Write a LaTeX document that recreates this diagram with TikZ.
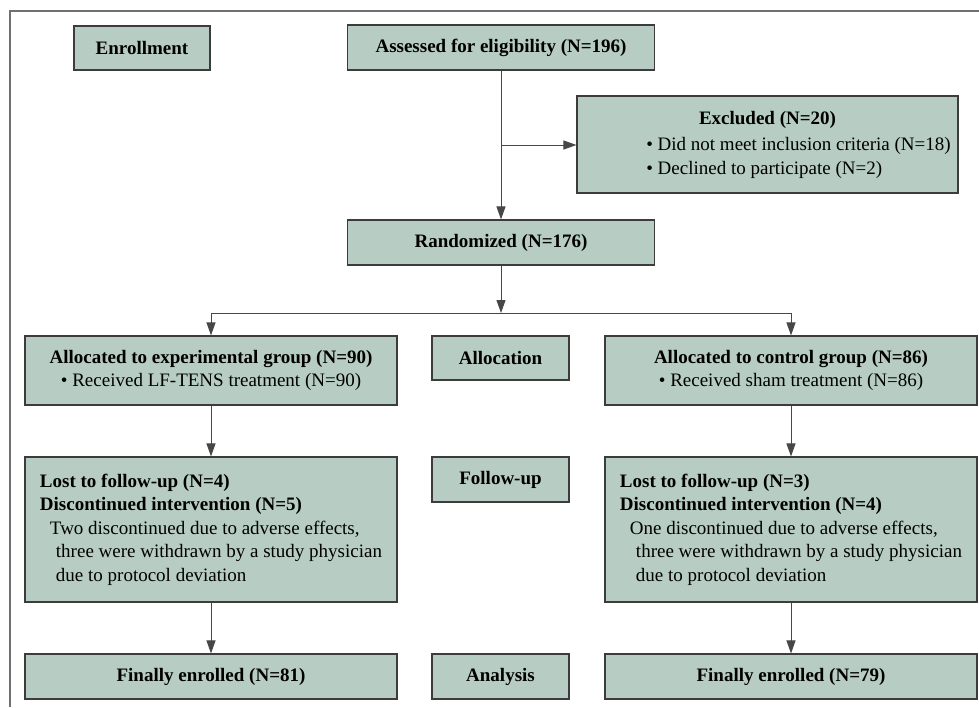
\documentclass[tikz,border=0pt]{standalone}
\usepackage{fontspec}
\setmainfont{Liberation Serif}
\usetikzlibrary{arrows.meta}
\definecolor{boxfill}{HTML}{B7CCC3}
\definecolor{boxline}{HTML}{3C3C3C}
\definecolor{frameline}{HTML}{707070}

\begin{document}
\begin{tikzpicture}[x=1pt,y=-1pt,
    box/.style={draw=boxline,fill=boxfill,line width=1.1pt,inner sep=0pt,
      align=center,font=\fontsize{19}{23.5}\selectfont},
    arr/.style={draw=black!72,line width=1pt,-{Triangle[length=13pt,width=9pt]}}]
  \useasboundingbox (0,0) rectangle (979,707);
  \draw[frameline,line width=1.2pt] (10,707) -- (10,11) -- (979,11);

  % stages
  \node[box,minimum width=136pt,minimum height=44pt] (enroll) at (142,48) {\textbf{Enrollment}};
  \node[box,minimum width=137pt,minimum height=44pt] (alloc) at (500.5,358) {\textbf{Allocation}};
  \node[box,minimum width=137pt,minimum height=45pt] (follow) at (500.5,479.5) {\textbf{Follow-up}};
  \node[box,minimum width=137pt,minimum height=45pt] (analysis) at (500.5,676.5) {\textbf{Analysis}};

  % enrollment
  \node[box,minimum width=307pt,minimum height=45pt] (assess) at (501,47.5) {\textbf{Assessed for eligibility (N=196)}};
  \node[box,minimum width=381pt,minimum height=97pt] (excl) at (767.5,144.5) {%
    \begin{tabular}{@{\hspace{62pt}}l@{}}
      \multicolumn{1}{@{}c@{}}{\textbf{Excluded (N=20)}}\\[3pt]
      \textbullet{} Did not meet inclusion criteria (N=18)\\
      \textbullet{} Declined to participate (N=2)
    \end{tabular}};
  \node[box,minimum width=307pt,minimum height=45pt] (rand) at (501,242.5) {\textbf{Randomized (N=176)}};

  % allocation
  \node[box,minimum width=372pt,minimum height=69pt] (expalloc) at (211,370.5)
    {\textbf{Allocated to experimental group (N=90)}\\ \textbullet{} Received LF-TENS treatment (N=90)};
  \node[box,minimum width=372pt,minimum height=69pt] (ctrlalloc) at (791,370.5)
    {\textbf{Allocated to control group (N=86)}\\ \textbullet{} Received sham treatment (N=86)};

  % follow-up
  \node[box,minimum width=372pt,minimum height=145pt] (explost) at (211,529.5) {%
    \begin{tabular}{@{}l@{}}
      \textbf{Lost to follow-up (N=4)}\\
      \textbf{Discontinued intervention (N=5)}\\
      \hspace*{10pt}Two discontinued due to adverse effects,\\
      \hspace*{16pt}three were withdrawn by a study physician\\
      \hspace*{16pt}due to protocol deviation
    \end{tabular}};
  \node[box,minimum width=372pt,minimum height=145pt] (ctrllost) at (791,529.5) {%
    \begin{tabular}{@{}l@{}}
      \textbf{Lost to follow-up (N=3)}\\
      \textbf{Discontinued intervention (N=4)}\\
      \hspace*{10pt}One discontinued due to adverse effects,\\
      \hspace*{16pt}three were withdrawn by a study physician\\
      \hspace*{16pt}due to protocol deviation
    \end{tabular}};

  % analysis
  \node[box,minimum width=372pt,minimum height=45pt] (expfinal) at (211,676.5) {\textbf{Finally enrolled (N=81)}};
  \node[box,minimum width=372pt,minimum height=45pt] (ctrlfinal) at (791,676.5) {\textbf{Finally enrolled (N=79)}};

  % connectors
  \coordinate (exclsplit) at (501,145);
  \coordinate (randsplit) at (501,313);
  \draw[arr] (assess) -- (rand);
  \draw[arr] (exclsplit) -- (exclsplit -| excl.west);
  \draw[arr] (rand) -- (randsplit);
  \draw[arr] (randsplit) -| (expalloc);
  \draw[arr] (randsplit) -| (ctrlalloc);
  \draw[arr] (expalloc) -- (explost);
  \draw[arr] (explost) -- (expfinal);
  \draw[arr] (ctrlalloc) -- (ctrllost);
  \draw[arr] (ctrllost) -- (ctrlfinal);
\end{tikzpicture}
\end{document}
